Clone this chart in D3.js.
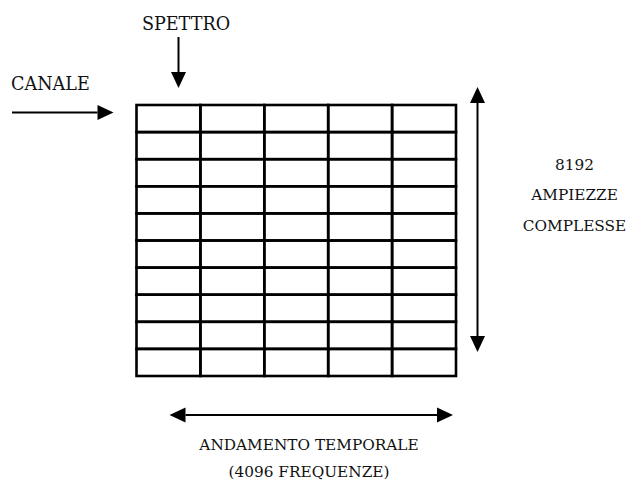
<!DOCTYPE html>
<html lang="it">
<head>
<meta charset="UTF-8">
<title>Matrice spettro</title>
<script src="https://cdn.jsdelivr.net/npm/d3@7"></script>
<style>
  body { margin: 0; background: #fff; }
  text { font-family: "DejaVu Serif", serif; font-size: 15.3px; fill: #111; }
  text.big { font-size: 17.6px; }
</style>
</head>
<body>
<svg width="628" height="481"></svg>
<script>
    // griglia: 5 colonne (spettri) x 10 righe (ampiezze)
    var columns = [0, 1, 2, 3, 4];
    var rows = [0, 1, 2, 3, 4, 5, 6, 7, 8, 9];
    var rightLabels = ["8192", "AMPIEZZE", "COMPLESSE"];
    var bottomLabels = ["ANDAMENTO TEMPORALE", "(4096 FREQUENZE)"];

    var svg = d3.select('svg');

    var x = d3.scaleLinear().domain([0, columns.length]).range([136.5, 456]);
    var y = d3.scaleLinear().domain([0, rows.length]).range([105, 376]);

    // celle
    var cells = [];
    rows.forEach(function (r) {
        columns.forEach(function (c) { cells.push({r: r, c: c}); });
    });
    svg.append('g').selectAll('rect').data(cells).enter().append('rect')
        .attr('x', function (d) { return x(d.c); })
        .attr('y', function (d) { return y(d.r); })
        .attr('width', x(1) - x(0))
        .attr('height', y(1) - y(0))
        .attr('fill', 'none').attr('stroke', '#000').attr('stroke-width', 2.6);

    // freccia con punte triangolari
    function arrow(x1, y1, x2, y2, both) {
        var g = svg.append('g');
        var ang = Math.atan2(y2 - y1, x2 - x1);
        var len = 16, half = 7.5;
        function head(tx, ty, a) {
            var bx = tx - len * Math.cos(a), by = ty - len * Math.sin(a);
            var px = -Math.sin(a) * half, py = Math.cos(a) * half;
            g.append('path')
                .attr('d', 'M' + tx + ',' + ty + 'L' + (bx + px) + ',' + (by + py) + 'L' + (bx - px) + ',' + (by - py) + 'Z')
                .attr('fill', '#000');
        }
        var sx = both ? x1 + len * Math.cos(ang) : x1, sy = both ? y1 + len * Math.sin(ang) : y1;
        g.append('line')
            .attr('x1', sx).attr('y1', sy)
            .attr('x2', x2 - len * Math.cos(ang)).attr('y2', y2 - len * Math.sin(ang))
            .attr('stroke', '#000').attr('stroke-width', 2);
        head(x2, y2, ang);
        if (both) head(x1, y1, ang + Math.PI);
    }

    // CANALE
    arrow(12, 112.5, x(0) - 23, 112.5, false);
    svg.append('text').attr('class', 'big').attr('x', 11).attr('y', 90).text('CANALE');

    // SPETTRO
    arrow(178.5, 37, 178.5, 88, false);
    svg.append('text').attr('class', 'big').attr('x', 186).attr('y', 29.5).attr('text-anchor', 'middle').text('SPETTRO');

    // verticale
    arrow(477.5, y(0) - 18, 477.5, y(10) - 24, true);
    svg.append('g').selectAll('text').data(rightLabels).enter().append('text')
        .attr('x', 574.5).attr('y', function (d, i) { return 169.5 + i * 30.5; })
        .attr('text-anchor', 'middle').text(function (d) { return d; });

    // orizzontale
    arrow(x(0) + 33, 415, x(5) - 3, 415, true);
    svg.append('g').selectAll('text').data(bottomLabels).enter().append('text')
        .attr('x', 309).attr('y', function (d, i) { return 449.5 + i * 27; })
        .attr('text-anchor', 'middle').text(function (d) { return d; });
</script>
</body>
</html>
